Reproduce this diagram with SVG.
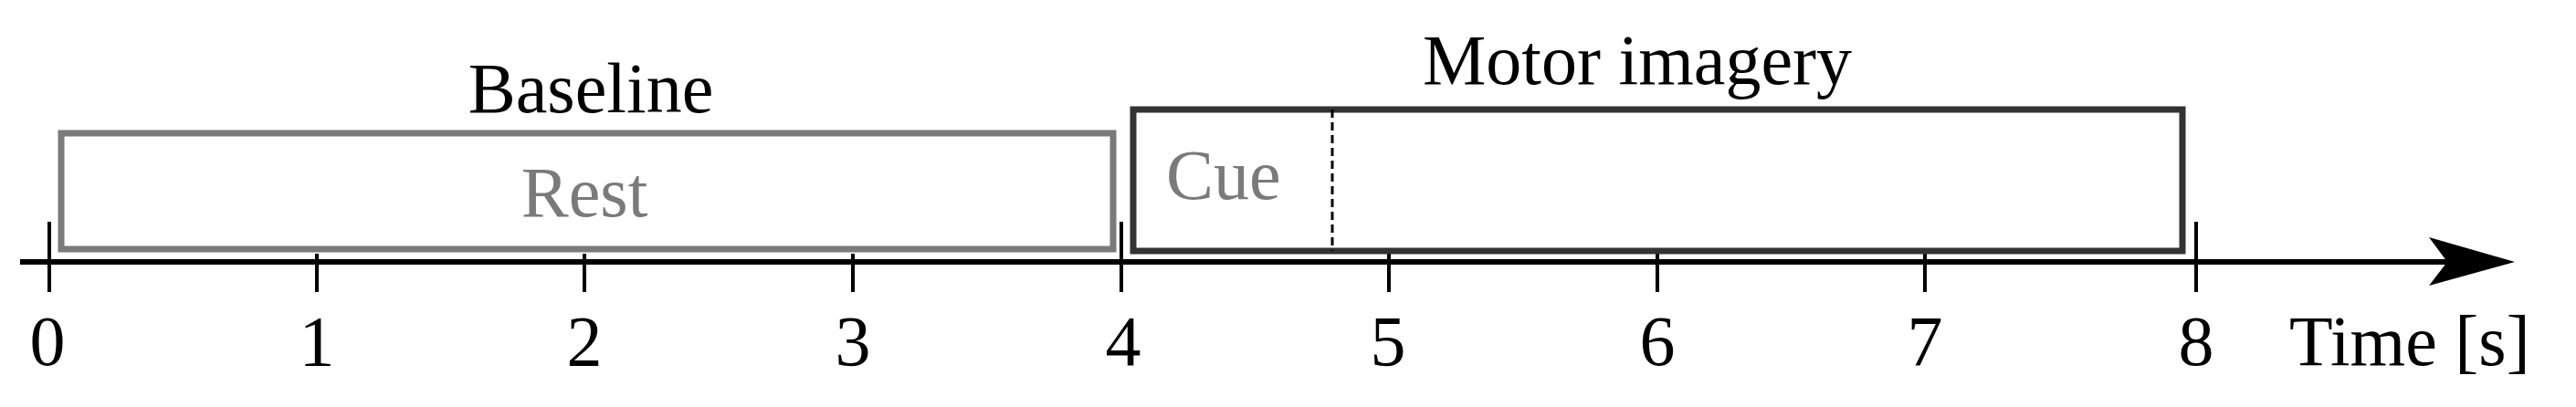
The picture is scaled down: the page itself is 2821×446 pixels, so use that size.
<svg xmlns="http://www.w3.org/2000/svg" width="2821" height="446" viewBox="0 0 2821 446">
<style>
text{font-family:"Liberation Serif",serif;font-size:78px;fill:#000}
.g{fill:#7a7a7a}
.n{text-anchor:middle}
.t{stroke:#000;stroke-width:4}
</style>
<rect width="2821" height="446" fill="#fff"/>
<g id="connectors">
<line x1="22" y1="287" x2="2680" y2="287" stroke="#000" stroke-width="6"/>
<polygon points="2660,260 2754,287 2660,313 2680,287" fill="#000"/>
<line class="t" x1="54" y1="243" x2="54" y2="320"/>
<line class="t" x1="347" y1="278" x2="347" y2="320"/>
<line class="t" x1="640" y1="278" x2="640" y2="320"/>
<line class="t" x1="934" y1="278" x2="934" y2="320"/>
<line class="t" x1="1228" y1="243" x2="1228" y2="320"/>
<line class="t" x1="1521" y1="278" x2="1521" y2="320"/>
<line class="t" x1="1815" y1="273" x2="1815" y2="320"/>
<line class="t" x1="2108" y1="276" x2="2108" y2="320"/>
<line class="t" x1="2405" y1="243" x2="2405" y2="320"/>
</g>
<g id="rest">
<rect x="67" y="146" width="1152" height="127" fill="none" stroke="#7a7a7a" stroke-width="7"/>
<text class="g n" x="640" y="237">Rest</text>
<text class="n" x="647" y="123">Baseline</text>
</g>
<g id="motor">
<rect x="1241" y="120" width="1149" height="155" fill="none" stroke="#333" stroke-width="7"/>
<line x1="1459" y1="120" x2="1459" y2="275" stroke="#000" stroke-width="3" stroke-dasharray="9,5"/>
<text class="g" x="1277" y="218">Cue</text>
<text x="1558" y="92">Motor imagery</text>
</g>
<g id="labels">
<text class="n" x="52" y="400">0</text>
<text class="n" x="347" y="400">1</text>
<text class="n" x="640" y="400">2</text>
<text class="n" x="934" y="400">3</text>
<text class="n" x="1230" y="400">4</text>
<text class="n" x="1520" y="400">5</text>
<text class="n" x="1815" y="400">6</text>
<text class="n" x="2108" y="400">7</text>
<text class="n" x="2405" y="400">8</text>
<text x="2507" y="400">Time [s]</text>
</g>
</svg>
